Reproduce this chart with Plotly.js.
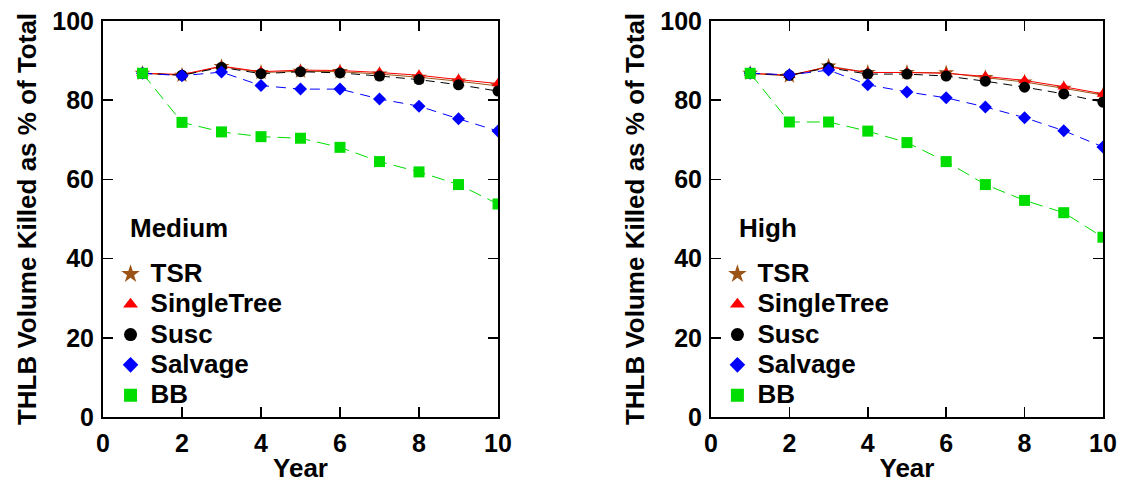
<!DOCTYPE html>
<html>
<head>
<meta charset="utf-8">
<script src="https://cdn.plot.ly/plotly-3.0.1.min.js"></script>
<style>html,body{margin:0;padding:0;background:#fff;}</style>
</head>
<body>
<div id="chart" style="width:1128px;height:483px;"></div>
<script>
// ---- data ----
const years = [1, 2, 3, 4, 5, 6, 7, 8, 9, 10];
const seriesNames = ["TSR", "SingleTree", "Susc", "Salvage", "BB"];
const panelLabels = ["Medium", "High"];

const mediumTSR        = [86.8, 86.3, 88.5, 87.0, 87.3, 87.2, 86.6, 85.8, 84.8, 83.6];
const mediumSingleTree = [86.8, 86.5, 88.6, 87.2, 87.6, 87.5, 87.0, 86.3, 85.2, 84.2];
const mediumSusc       = [86.8, 86.3, 88.3, 86.7, 87.2, 86.9, 86.1, 85.2, 83.9, 82.3];
const mediumSalvage    = [86.8, 86.2, 87.1, 83.7, 82.8, 82.8, 80.3, 78.5, 75.3, 72.2];
const mediumBB         = [86.8, 74.4, 72.0, 70.8, 70.4, 68.1, 64.5, 61.9, 58.7, 53.8];

const highTSR          = [86.8, 86.1, 88.6, 87.0, 87.0, 86.9, 85.7, 84.6, 83.0, 81.3];
const highSingleTree   = [86.8, 86.3, 88.4, 87.0, 87.0, 86.8, 86.0, 85.0, 83.4, 81.6];
const highSusc         = [86.8, 86.3, 88.2, 86.6, 86.6, 86.1, 84.8, 83.3, 81.6, 79.5];
const highSalvage      = [86.8, 86.4, 87.6, 83.9, 82.1, 80.6, 78.3, 75.6, 72.3, 68.2];
const highBB           = [86.8, 74.5, 74.5, 72.2, 69.3, 64.5, 58.7, 54.7, 51.6, 45.4];

const xTickVals = [0, 2, 4, 6, 8, 10];
const yTickVals = [0, 20, 40, 60, 80, 100];

// ---- styles ----
const styles = {
  TSR:        {color: "#9C5416", symbol: "star",         size: 12, dash: "solid"},
  SingleTree: {color: "#FF0000", symbol: "triangle-up",  size: 11, dash: "solid"},
  Susc:       {color: "#000000", symbol: "circle",       size: 11, dash: "9px,6px"},
  Salvage:    {color: "#0000FF", symbol: "diamond",      size: 10, dash: "10px,7px"},
  BB:         {color: "#00DD00", symbol: "square",       size: 11, dash: "13px,7px"}
};

const panels = [
  {label: panelLabels[0], xa: "x",  ya: "y",  legend: "legend",
   values: {TSR: mediumTSR, SingleTree: mediumSingleTree, Susc: mediumSusc, Salvage: mediumSalvage, BB: mediumBB}},
  {label: panelLabels[1], xa: "x2", ya: "y2", legend: "legend2",
   values: {TSR: highTSR, SingleTree: highSingleTree, Susc: highSusc, Salvage: highSalvage, BB: highBB}}
];

const FONT = "Liberation Sans, Arial, sans-serif";
const traces = [];
panels.forEach(p => {
  seriesNames.forEach(name => {
    const s = styles[name];
    traces.push({
      type: "scatter", mode: "lines+markers",
      x: years, y: p.values[name], name: name,
      xaxis: p.xa, yaxis: p.ya, showlegend: false,
      line: {color: s.color, width: 1, dash: s.dash},
      marker: {color: s.color, symbol: s.symbol, size: s.size, line: {width: 0}}
    });
  });
  // legend entries (markers only)
  seriesNames.forEach((name, i) => {
    const s = styles[name];
    traces.push({
      type: "scatter", mode: "markers",
      x: [null], y: [null],
      name: '<span style="font-size:26px">' + name + '</span>',
      xaxis: p.xa, yaxis: p.ya, legend: p.legend, legendgroup: p.legend + i,
      marker: {color: s.color, symbol: s.symbol, size: s.size + 2, line: {width: 0}},
      hoverinfo: "skip"
    });
  });
});

function xaxisDef(domain, anchor) {
  return {
    domain: domain, anchor: anchor, range: [0, 10],
    tickvals: xTickVals, ticks: "inside", ticklen: 10, tickwidth: 1.5, tickcolor: "#000",
    showline: true, linecolor: "#000", linewidth: 2, mirror: "ticks",
    showgrid: false, zeroline: false, automargin: false,
    ticklabelstandoff: 3,
    tickfont: {family: FONT, size: 25, weight: "bold", color: "#000"},
    title: {text: "Year", font: {family: FONT, size: 26, weight: "bold", color: "#000"}, standoff: 10}
  };
}
function yaxisDef(anchor) {
  return {
    domain: [0.1366, 0.9565], anchor: anchor, range: [0, 100],
    tickvals: yTickVals, ticks: "inside", ticklen: 10, tickwidth: 1.5, tickcolor: "#000",
    showline: true, linecolor: "#000", linewidth: 2, mirror: "ticks",
    showgrid: false, zeroline: false, automargin: false,
    ticklabelstandoff: 2,
    tickfont: {family: FONT, size: 25, weight: "bold", color: "#000"},
    title: {text: "THLB Volume Killed as % of Total", font: {family: FONT, size: 26, weight: "bold", color: "#000"}, standoff: 8}
  };
}

const legendBase = {
  font: {family: FONT, size: 21, weight: "bold", color: "#000"},
  bgcolor: "rgba(0,0,0,0)", borderwidth: 0,
  tracegroupgap: 0, traceorder: "grouped",
  xanchor: "left", yanchor: "top", itemclick: false
};

const layout = {
  width: 1128, height: 483,
  margin: {l: 0, r: 0, t: 0, b: 0},
  paper_bgcolor: "#fff", plot_bgcolor: "#fff",
  font: {family: FONT, color: "#000"},
  xaxis: xaxisDef([0.0913, 0.4415], "y"),
  yaxis: yaxisDef("x"),
  xaxis2: xaxisDef([0.6303, 0.9778], "y2"),
  yaxis2: yaxisDef("x2"),
  legend: Object.assign({}, legendBase, {x: 0.0980, y: 0.4745}),
  legend2: Object.assign({}, legendBase, {x: 0.6360, y: 0.4745}),
  annotations: panels.map((p, i) => ({
    text: p.label, xref: "paper", yref: "paper",
    x: i === 0 ? 0.1136 : 0.6530, y: 0.527, xanchor: "left", yanchor: "middle",
    showarrow: false, font: {family: FONT, size: 26, weight: "bold", color: "#000"}
  })),
  showlegend: true
};

Plotly.newPlot("chart", traces, layout, {staticPlot: true, displayModeBar: false});
</script>
</body>
</html>
